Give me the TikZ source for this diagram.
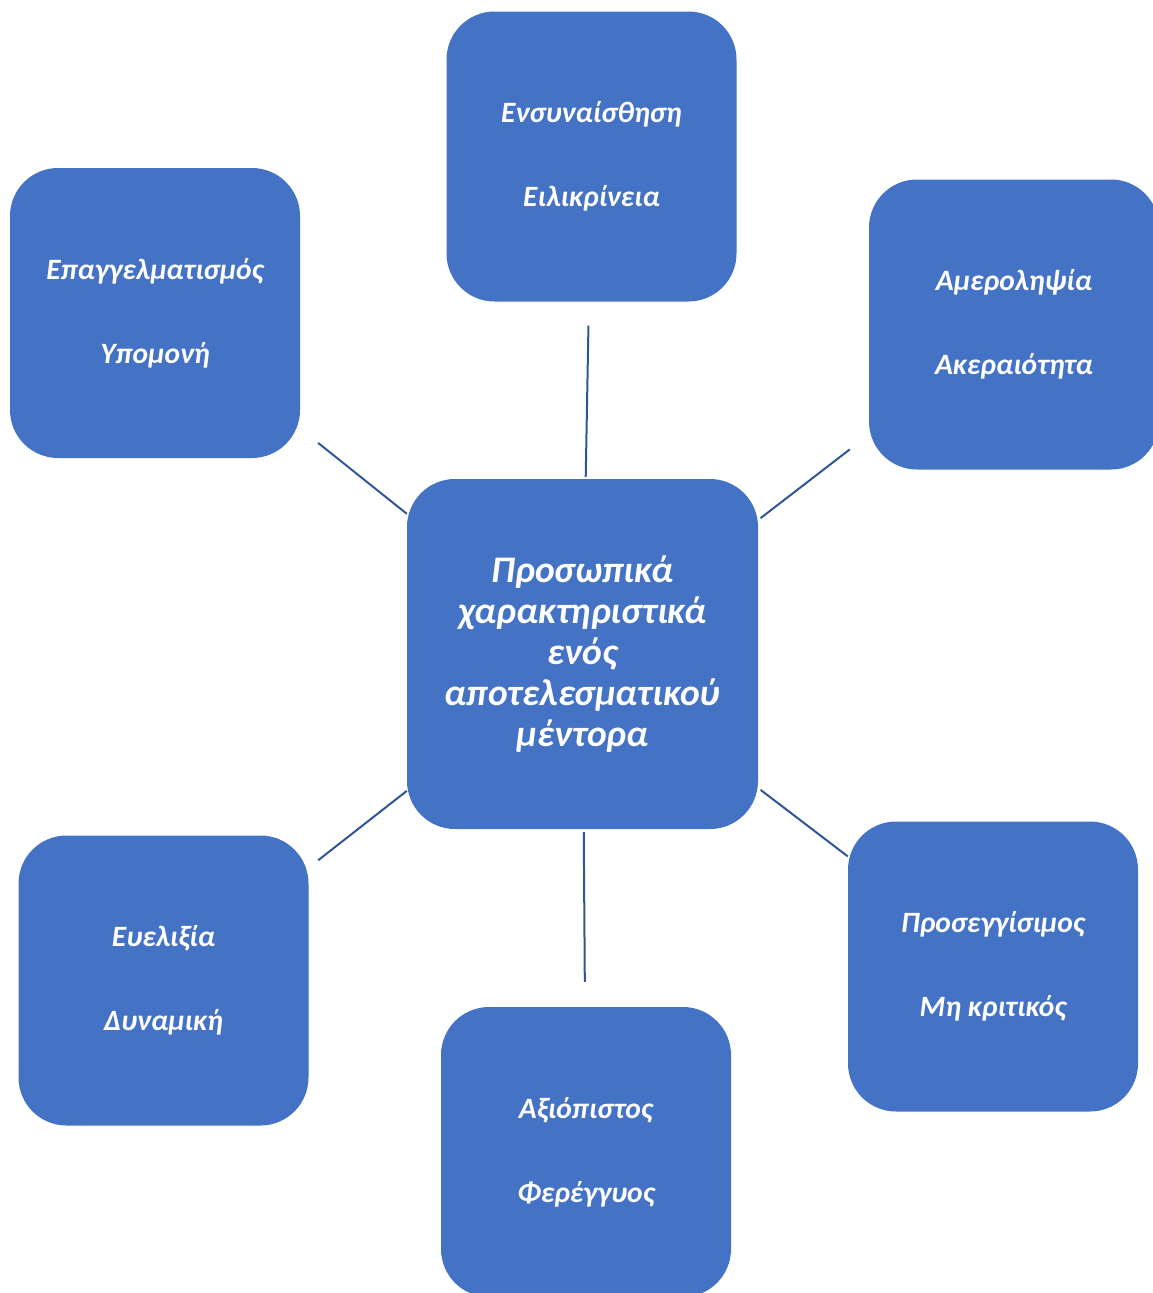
\documentclass[tikz,border=0pt]{standalone}
\usepackage{fontspec}
\setmainfont{Carlito}
\definecolor{boxblue}{HTML}{4472C4}
\definecolor{lineblue}{HTML}{2F5597}
\begin{document}
\begin{tikzpicture}[x=1pt,y=-1pt,
  box/.style={fill=boxblue, rounded corners=48pt, minimum width=290pt, minimum height=290pt,
    text=white, font=\fontsize{29.5}{34}\selectfont\bfseries\itshape, align=center, inner sep=0pt},
  hub/.style={box, minimum width=351pt, minimum height=350pt,
    font=\fontsize{37.5}{41}\selectfont\bfseries\itshape},
  link/.style={draw=lineblue, line width=2pt}]
\useasboundingbox (0,0) rectangle (1153,1293);
\node[hub] (hub) at (582.5,654) {Προσωπικά\\χαρακτηριστικά\\ενός\\αποτελεσματικού\\μέντορα};
\node[box] (top) at (591.5,156.5) {Ενσυναίσθηση\\[50pt]Ειλικρίνεια};
\node[box] (tl) at (155,313) {Επαγγελματισμός\\[50pt]Υπομονή};
\node[box] (tr) at (1014,324.5) {Αμεροληψία\\[50pt]Ακεραιότητα};
\node[box] (bl) at (163.5,980.5) {Ευελιξία\\[50pt]Δυναμική};
\node[box] (br) at (993,966.5) {Προσεγγίσιμος\\[50pt]Μη κριτικός};
\node[box] (bot) at (586,1152) {Αξιόπιστος\\[50pt]Φερέγγυος};
\draw[link, shorten <=2pt, shorten >=24pt] (hub) -- (top);
\draw[link, shorten >=23pt] (hub) -- (tl);
\draw[link, shorten <=3pt, shorten >=24pt] (hub) -- (tr);
\draw[link, shorten >=12pt] (hub) -- (bl);
\draw[link, shorten <=3pt] (hub) -- (br);
\draw[link, shorten <=3pt, shorten >=25pt] (hub) -- (bot);
\end{tikzpicture}
\end{document}
